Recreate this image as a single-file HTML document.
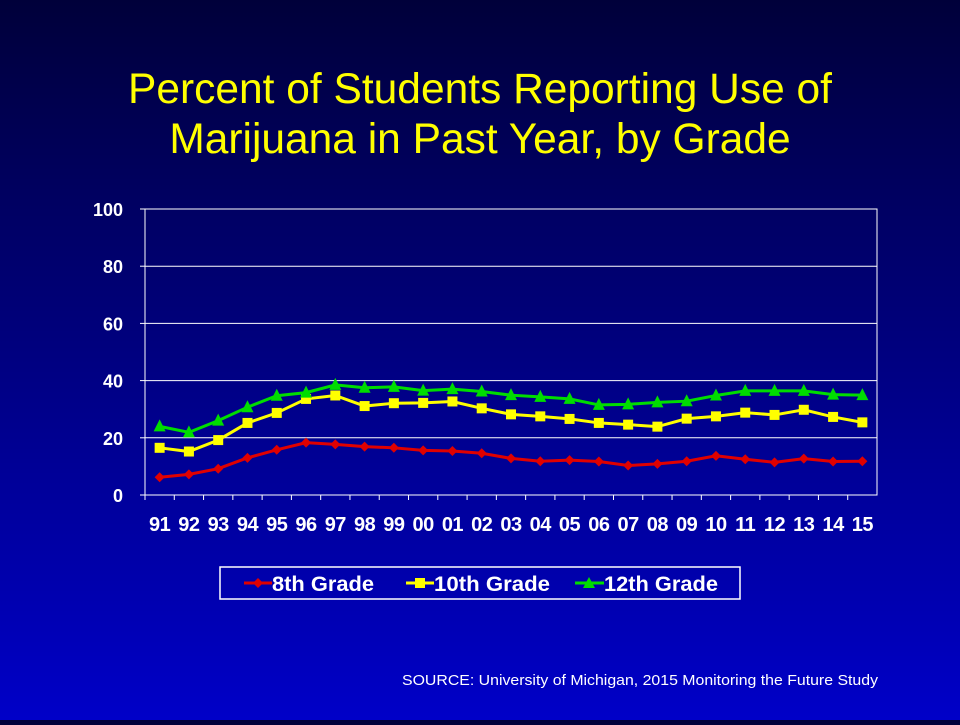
<!DOCTYPE html>
<html><head><meta charset="utf-8"><style>
html,body{margin:0;padding:0}
body{width:960px;height:720px;overflow:hidden;background:linear-gradient(#00003a,#0000c8);font-family:"Liberation Sans",sans-serif}
</style></head><body>
<svg width="960" height="720">
<text x="480" y="103" fill="#ffff00" font-size="42.5" text-anchor="middle">Percent of Students Reporting Use of</text>
<text x="480" y="153" fill="#ffff00" font-size="42.5" text-anchor="middle">Marijuana in Past Year, by Grade</text>
<g id="plot"></g>
<g>
<rect x="220" y="567" width="520" height="32" fill="none" stroke="#fff" stroke-width="1.5"/>
<line x1="244" y1="583" x2="272" y2="583" stroke="#e00000" stroke-width="3"/><path d="M258 578 L263 583 L258 588 L253 583Z" fill="#e00000"/>
<text x="272" y="591" fill="#fff" font-size="21" font-weight="bold" textLength="102" lengthAdjust="spacingAndGlyphs">8th Grade</text>
<line x1="406" y1="583" x2="434" y2="583" stroke="#ffff00" stroke-width="3"/><rect x="415" y="578" width="10" height="10" fill="#ffff00"/>
<text x="434" y="591" fill="#fff" font-size="21" font-weight="bold" textLength="116" lengthAdjust="spacingAndGlyphs">10th Grade</text>
<line x1="575" y1="583" x2="604" y2="583" stroke="#00dd00" stroke-width="3"/><path d="M589 577 L595 588 L583 588Z" fill="#00dd00"/>
<text x="604" y="591" fill="#fff" font-size="21" font-weight="bold" textLength="114" lengthAdjust="spacingAndGlyphs">12th Grade</text>
</g>
<text x="878" y="685" fill="#fff" font-size="15" text-anchor="end" textLength="476" lengthAdjust="spacingAndGlyphs">SOURCE: University of Michigan, 2015 Monitoring the Future Study</text>
</svg>
<script>
const years=["91","92","93","94","95","96","97","98","99","00","01","02","03","04","05","06","07","08","09","10","11","12","13","14","15"];
const grade8=[6.2,7.2,9.2,13.0,15.8,18.3,17.7,16.9,16.5,15.6,15.4,14.6,12.8,11.8,12.2,11.7,10.3,10.9,11.8,13.7,12.5,11.4,12.7,11.7,11.8];
const grade10=[16.5,15.2,19.2,25.2,28.7,33.6,34.8,31.1,32.1,32.2,32.7,30.3,28.2,27.5,26.6,25.2,24.6,23.9,26.7,27.5,28.8,28.0,29.8,27.3,25.4];
const grade12=[24.0,21.9,26.0,30.7,34.7,35.8,38.5,37.5,37.8,36.5,37.0,36.2,34.9,34.3,33.6,31.5,31.7,32.4,32.8,34.8,36.4,36.4,36.4,35.1,34.9];
const yTicks=[0,20,40,60,80,100];
const NS="http://www.w3.org/2000/svg";
const L=145,R=877,T=209,B=495;
const band=(R-L)/years.length;
const x=i=>L+band*(i+0.5);
const y=v=>B-(v/100)*(B-T);
const g=document.getElementById('plot');
function mk(tag,attrs,parent){const e=document.createElementNS(NS,tag);for(const k in attrs)e.setAttribute(k,attrs[k]);(parent||g).appendChild(e);return e;}
const bg=mk('rect',{x:L,y:T,width:R-L,height:B-T,fill:'none',stroke:'#fff','stroke-width':1});


yTicks.forEach(t=>{
 const ln=mk('line',{x1:L,x2:R,y1:y(t),y2:y(t),stroke:'#fff','stroke-width':1});
 
 
 mk('line',{x1:L-5,x2:L,y1:y(t),y2:y(t),stroke:'#fff'});
 const tx=mk('text',{x:L-22,y:y(t)+7,fill:'#fff','font-size':18,'font-weight':'bold','text-anchor':'end'});
 tx.textContent=t;
 
 
});
years.forEach((yr,i)=>{
 mk('line',{x1:L+band*i,x2:L+band*i,y1:B,y2:B+5,stroke:'#fff'});
 const tx=mk('text',{x:x(i),y:B+36,fill:'#fff','font-size':20,'font-weight':'bold','text-anchor':'middle','letter-spacing':-0.5});
 tx.textContent=yr;
 
 
});
function series(data,color,shape,name){
 const p=mk('polyline',{points:data.map((v,i)=>x(i)+','+y(v)).join(' '),fill:'none',stroke:color,'stroke-width':3});
 
 
 data.forEach((v,i)=>{
  const cx=x(i),cy=y(v);let m;
  if(shape==='d')m=mk('path',{d:`M${cx} ${cy-5}L${cx+5} ${cy}L${cx} ${cy+5}L${cx-5} ${cy}Z`,fill:color});
  else if(shape==='s')m=mk('rect',{x:cx-5,y:cy-5,width:10,height:10,fill:color});
  else m=mk('path',{d:`M${cx} ${cy-7}L${cx+6} ${cy+5}L${cx-6} ${cy+5}Z`,fill:color});
  
  
 });
}
series(grade8,'#e00000','d','grade8');
series(grade10,'#ffff00','s','grade10');
series(grade12,'#00dd00','t','grade12');
</script>
</body></html>
